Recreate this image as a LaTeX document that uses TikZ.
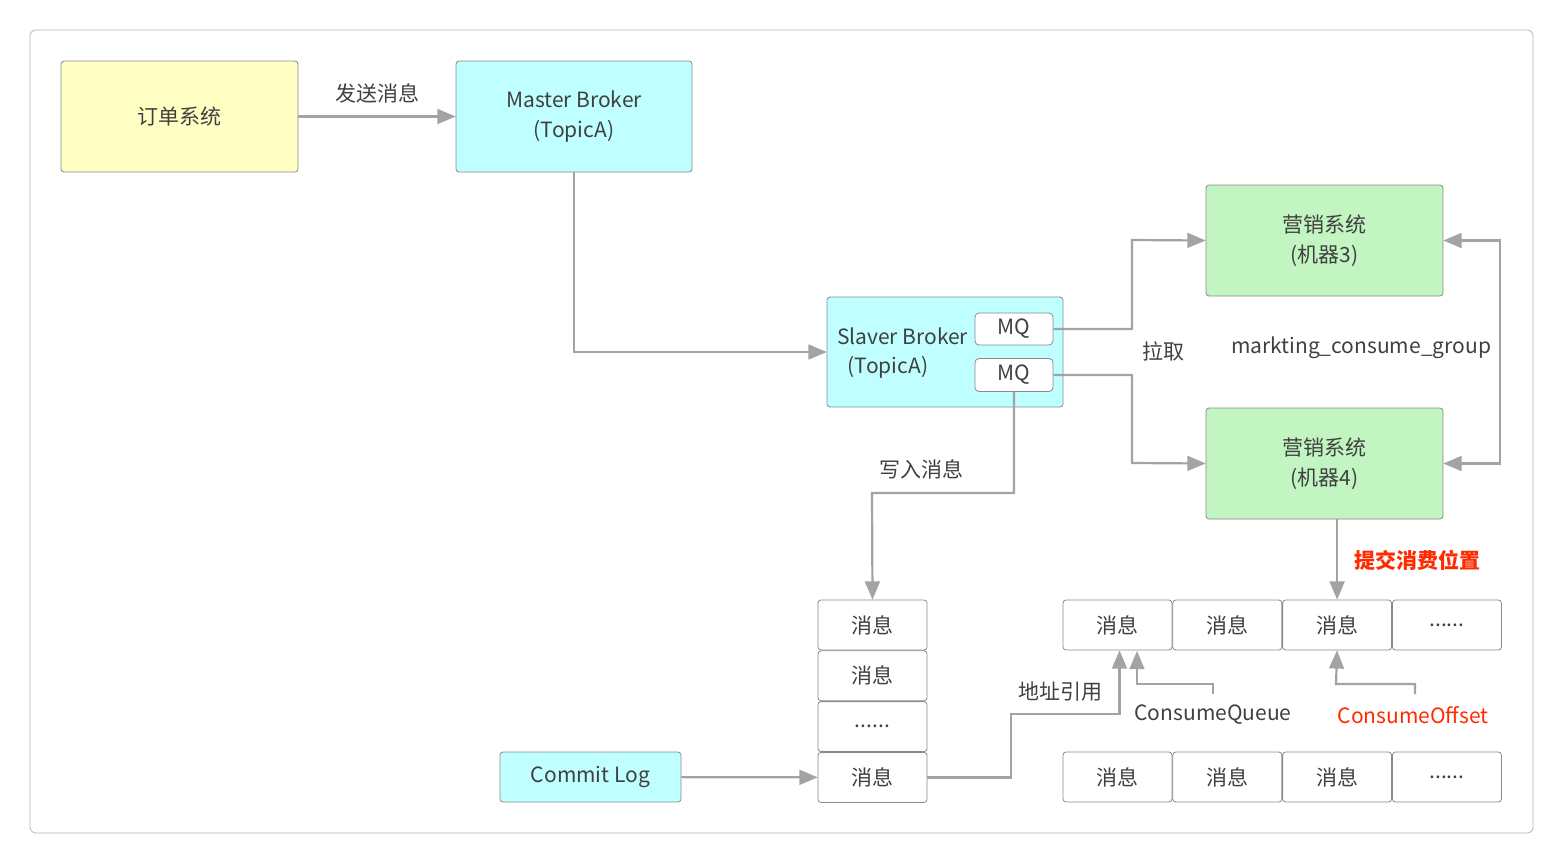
\documentclass[tikz,border=0pt]{standalone}
\usepackage{fontspec}
\setmainfont{Noto Sans CJK SC}
\usetikzlibrary{arrows,positioning,calc}
\definecolor{linegray}{HTML}{A3A3A3}
\definecolor{boxgray}{HTML}{8A8A8A}
\definecolor{cyanbox}{HTML}{BFFFFF}
\definecolor{yellowbox}{HTML}{FFFFC4}
\definecolor{greenbox}{HTML}{C2F5C2}
\definecolor{redtext}{HTML}{FF2A00}
\tikzset{
  box/.style={draw=boxgray,rectangle,rounded corners=1.5pt,inner sep=0pt,align=center,text=black!75,font=\fontsize{10.5}{15}\selectfont},
  msg/.style={box,fill=white,minimum width=54.5pt,minimum height=25pt},
  conn/.style={draw=linegray,line width=1.1pt,-triangle 45},
  lbl/.style={text=black!75,font=\fontsize{10.5}{12}\selectfont}
}
\begin{document}
\begin{tikzpicture}[x=0.5pt,y=-0.5pt]
\useasboundingbox (0,0) rectangle (1564,864);
\draw[draw=linegray!80,rounded corners=3pt] (30,30) rectangle (1533,833);

\node[box,fill=yellowbox,minimum width=118.5pt,minimum height=55.5pt] (order) at (179.5,116.5) {订单系统};
\node[box,fill=cyanbox,minimum width=118pt,minimum height=55.5pt] (master) at (574,116.5) {Master Broker\\(TopicA)};
\node[box,fill=cyanbox,minimum width=118pt,minimum height=55pt] (slaver) at (945,352) {};
\node[lbl,anchor=west] at (830,336) {Slaver Broker};
\node[lbl] at (888,367) {(TopicA)};
\node[box,fill=white,rounded corners=2pt,minimum width=39pt,minimum height=16pt] (mqa) at (1014,329) {MQ};
\node[box,fill=white,rounded corners=2pt,minimum width=39pt,minimum height=16.5pt] (mqb) at (1014,375) {MQ};
\node[box,fill=greenbox,minimum width=118.5pt,minimum height=55.5pt] (shop3) at (1324.5,240.5) {营销系统\\(机器3)};
\node[box,fill=greenbox,minimum width=118.5pt,minimum height=55.5pt] (shop4) at (1324.5,463.5) {营销系统\\(机器4)};
\node[box,fill=cyanbox,minimum width=90.5pt,minimum height=25pt] (clog) at (590.5,777) {Commit Log};

% commit log column
\node[msg] (c1) at (872.5,625) {消息};
\node[msg,below=0pt of c1] (c2) {消息};
\node[msg,below=0pt of c2] (c3) {......};
\node[msg,below=0pt of c3] (c4) {消息};

% consume queues
\node[msg] (qa1) at (1117.5,625) {消息};
\node[msg,right=0pt of qa1] (qa2) {消息};
\node[msg,right=0pt of qa2] (qa3) {消息};
\node[msg,right=0pt of qa3] (qa4) {......};
\node[msg] (qb1) at (1117.5,777) {消息};
\node[msg,right=0pt of qb1] (qb2) {消息};
\node[msg,right=0pt of qb2] (qb3) {消息};
\node[msg,right=0pt of qb3] (qb4) {......};

\coordinate (cq) at (1213,694);
\coordinate (cqtip) at (1137,651);
\coordinate (co) at (1415,694);

\draw[conn] (order) -- node[lbl,above=3pt] {发送消息} (master);
\draw[conn] (master.south) |- (slaver.west);
\draw[conn] (mqa.east) -| (1132,240) -- (shop3.west);
\draw[conn] (mqb.east) -| (1132,463) -- (shop4.west);
\draw[conn,triangle 45-triangle 45] (shop3.east) -| (1500,352) |- (shop4.east);
\draw[conn] (mqb.south) |- (872,493) -- (c1.north);
\draw[conn] (clog) -- (c4);
\draw[conn] (c4.east) -| (1011,714) -| ([xshift=1pt]qa1.south);
\draw[conn] (cq) -- (1213,684) -| (cqtip);
\draw[conn] (co) |- (1336,684) -- (qa3.south);
\draw[conn] (shop4.south -| qa3) -- (qa3.north);

\node[lbl] at (1163,351) {拉取};
\node[lbl] at (1361,348) {markting\_consume\_group};
\node[lbl] at (921,469) {写入消息};
\node[lbl] at (1060,692) {地址引用};
\node[lbl] at (1213,715) {ConsumeQueue};
\node[lbl,text=redtext] at (1413,715) {ConsumeOffset};
\node[lbl,text=redtext,font=\fontsize{10.5}{12}\selectfont\bfseries] at (1417,560) {提交消费位置};
\end{tikzpicture}
\end{document}
